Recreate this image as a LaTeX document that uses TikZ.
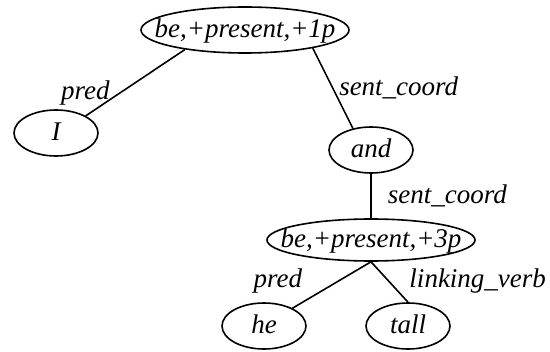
\documentclass[tikz,border=0pt]{standalone}
\usepackage{fontspec}
\setmainfont{Liberation Serif}[ItalicFont={Liberation Serif Italic}]
\usetikzlibrary{shapes.geometric}
\newcommand{\nodetext}[1]{\makebox[0pt]{\raisebox{-.27em}[0pt][0pt]{#1}}}

\begin{document}
\begin{tikzpicture}[x=0.5pt,y=-0.5pt,line width=0.8pt,
	word/.style={draw,ellipse,inner sep=0pt,minimum width=42pt,minimum height=23pt,font=\fontsize{13.5}{16}\selectfont\itshape},
	wide/.style={word,minimum width=104pt},
	rel/.style={inner sep=0pt,font=\fontsize{13.5}{16}\selectfont\itshape}]
	\useasboundingbox (0,0) rectangle (550,352);
	\node[wide,minimum height=23pt] (be1) at (245,30) {\nodetext{be,+present,+1p}};
	\node[word] (I) at (56,133) {\nodetext{I}};
	\node[word] (and) at (371,150) {\nodetext{and}};
	\node[wide,minimum height=21pt] (be3) at (371,240) {\nodetext{be,+present,+3p}};
	\node[word] (he) at (264,326) {\nodetext{he}};
	\node[word] (tall) at (408,326) {\nodetext{tall}};
	\draw (be1.198) -- node[rel,pos=.75,anchor=base east]{pred} (I.30);
	\draw (be1.345) -- node[rel,pos=.59,anchor=base west,xshift=1pt]{sent\_coord} (and.130);
	\draw (and) -- node[rel,pos=.66,anchor=base west,xshift=8pt]{sent\_coord} (be3);
	\draw (be3.south) -- node[rel,pos=.56,anchor=base east,xshift=-12pt]{pred} (he.32);
	\draw (be3.south) -- node[rel,pos=.64,anchor=base west,xshift=7pt]{linking\_verb} (tall.north);
\end{tikzpicture}
\end{document}
